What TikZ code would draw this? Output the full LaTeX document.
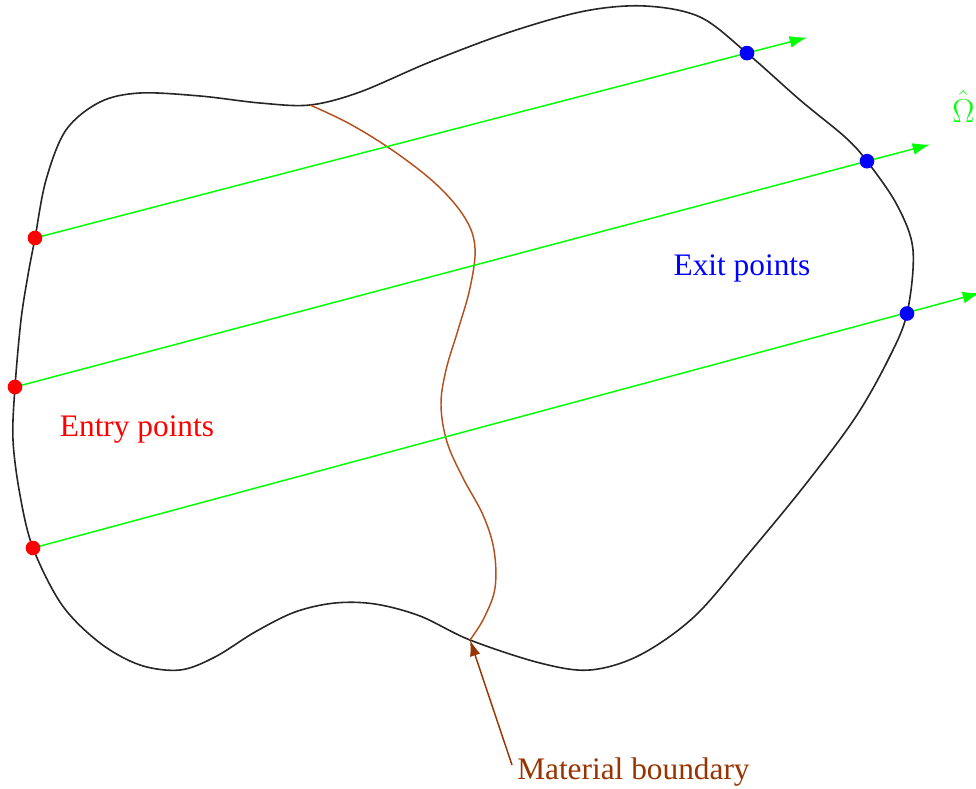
\documentclass[tikz,border=0pt]{standalone}
\usepackage{fontspec}
\setmainfont{Liberation Serif}
\usetikzlibrary{arrows.meta}
\definecolor{ray}{RGB}{0,255,0}
\definecolor{matline}{RGB}{180,80,30}
\definecolor{mattext}{RGB}{153,51,0}
\tikzset{
  outline/.style={draw=black!85, line width=1.2pt},
  raypath/.style={draw=ray, line width=1.1pt, -{Latex[length=13pt,width=9pt]}},
  entrydot/.style={circle, fill=red, inner sep=0pt, minimum size=11pt},
  exitdot/.style={circle, fill=blue, inner sep=0pt, minimum size=11pt},
  lbl/.style={font=\fontsize{23.5}{27}\selectfont, inner sep=0pt},
}
\begin{document}
\begin{tikzpicture}[x=0.75pt,y=-0.75pt]
\useasboundingbox (0,0) rectangle (976,789);
% key points
\coordinate (p1) at (35,238);
\coordinate (p2) at (15,387);
\coordinate (p3) at (33,548);
\coordinate (q1) at (747,53.1);
\coordinate (q2) at (867,161.2);
\coordinate (q3) at (907,313.5);
\coordinate (t1) at (807,37.5);
\coordinate (t2) at (930,144.5);
\coordinate (t3) at (980,293);
\coordinate (mtop) at (310,105);
\coordinate (mbot) at (470,640);
% outline
\draw[outline] plot[smooth cycle, tension=0.55] coordinates {
 (35,238) (46,180) (66,130) (100,102) (140,93) (200,96) (260,103) (310,105)
 (360,92) (430,62) (510,32) (585,11) (645,6) (700,17) (747,53.1)
 (800,100) (845,137) (867,161.2) (897,205) (913,250) (907,313.5)
 (888,360) (855,418) (805,485) (750,552) (695,616) (640,655) (590,670)
 (540,663) (470,640) (420,616) (375,604) (335,603) (295,612) (255,632)
 (215,657) (180,670) (140,665) (100,643) (62,605) (33,548)
 (20,495) (13,440) (15,387) (21,320) (28,275)
};
% material boundary
\draw[matline, line width=1.1pt] plot[smooth, tension=0.6] coordinates {
 (310,105) (350,124) (395,152) (437,185) (465,218) (475,248) (470,288)
 (458,330) (446,370) (441,405) (447,442) (463,478) (483,515) (494,550)
 (495,588) (484,618) (470,640)
};
% rays
\draw[raypath] (p1) -- (t1);
\draw[raypath] (p2) -- (t2);
\draw[raypath] (p3) -- (t3);
% dots
\node[entrydot] (en1) at (p1) {};
\node[entrydot] (en2) at (p2) {};
\node[entrydot] (en3) at (p3) {};
\node[exitdot] (ex1) at (q1) {};
\node[exitdot] (ex2) at (q2) {};
\node[exitdot] (ex3) at (q3) {};
% labels
\node[lbl, text=red] (entry) at (137,430) {Entry points};
\node[lbl, text=blue] (exit) at (742,268) {Exit points};
\node[lbl, text=mattext, anchor=base west] (mat) at (517,779) {Material boundary};
\node[lbl, text=ray, anchor=base west, font=\fontsize{26}{30}\selectfont] (omega) at (952,122) {$\hat{\Omega}$};
\coordinate (mtail) at (512,765);
\draw[mattext, line width=1.1pt, -{Latex[length=12pt,width=8pt]}] (mtail) -- (mbot);
\end{tikzpicture}
\end{document}
